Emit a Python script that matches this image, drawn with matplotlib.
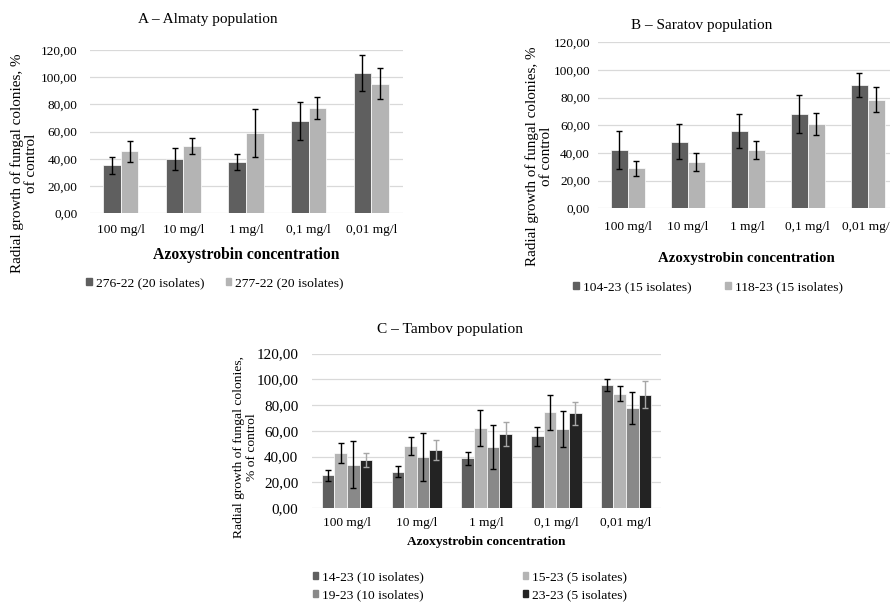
import numpy as np
import matplotlib
matplotlib.use("Agg")
from matplotlib import pyplot as plt
from matplotlib.patches import Patch
from matplotlib.ticker import FuncFormatter, MultipleLocator

plt.rcParams["font.family"] = ["Liberation Serif", "DejaVu Serif"]

# x categories shared by all three panels
categories = ["100 mg/l", "10 mg/l", "1 mg/l", "0,1 mg/l", "0,01 mg/l"]

# A - Almaty
almaty_labels = ["276-22 (20 isolates)", "277-22 (20 isolates)"]
almaty_276 = [35.2, 39.9, 37.7, 67.8, 103.1]
almaty_276_err = [6.2, 8.0, 6.2, 14.2, 13.3]
almaty_277 = [45.5, 49.5, 58.8, 77.6, 95.2]
almaty_277_err = [7.6, 6.2, 17.5, 8.2, 11.5]

# B - Saratov
saratov_labels = ["104-23 (15 isolates)", "118-23 (15 isolates)"]
saratov_104 = [41.9, 48.2, 55.9, 68.3, 89.3]
saratov_104_err = [13.8, 12.4, 12.3, 13.8, 8.5]
saratov_118 = [28.8, 33.6, 41.9, 61.0, 78.6]
saratov_118_err = [5.3, 6.4, 6.6, 8.2, 9.1]

# C - Tambov
tambov_labels = ["14-23 (10 isolates)", "15-23 (5 isolates)",
                 "19-23 (10 isolates)", "23-23 (5 isolates)"]
tambov_14 = [25.5, 28.3, 38.7, 55.8, 95.6]
tambov_14_err = [4.2, 4.2, 5.0, 7.4, 4.8]
tambov_15 = [42.6, 48.0, 61.8, 74.3, 88.8]
tambov_15_err = [7.5, 6.9, 14.0, 13.8, 5.8]
tambov_19 = [33.5, 39.7, 47.3, 61.3, 77.9]
tambov_19_err = [18.3, 18.7, 17.3, 14.1, 12.4]
tambov_23 = [37.4, 44.9, 57.4, 73.5, 88.0]
tambov_23_err = [5.6, 8.0, 9.2, 9.0, 10.3]

DARK = "#5f5f5f"
LIGHT = "#b4b4b4"
MID = "#898989"
BLACK = "#232323"
GRID = "#d9d9d9"

W, H = 890, 603
fig = plt.figure(figsize=(W / 100, H / 100), dpi=100)


def box(x0, y0, x1, y1):
    # pixel box (top-left origin) -> figure fraction rect
    return [x0 / W, 1 - y1 / H, (x1 - x0) / W, (y1 - y0) / H]


def at(x, y):
    return x / W, 1 - y / H


def draw_panel(ax, values, errors, colors, ecolors, width, ytick_size, ypad, xpad):
    x = np.arange(len(categories))
    n = len(values)
    for i in range(n):
        ax.bar(x + (i - (n - 1) / 2) * width, values[i], width,
               color=colors[i], edgecolor="white", linewidth=0.5,
               yerr=errors[i], zorder=2,
               error_kw=dict(ecolor=ecolors[i], elinewidth=1.0,
                             capsize=2.0, capthick=1.0, zorder=3))
    ax.set_xlim(-0.5, len(categories) - 0.5)
    ax.set_ylim(0, 120)
    ax.yaxis.set_major_locator(MultipleLocator(20))
    ax.yaxis.set_major_formatter(FuncFormatter(lambda v, p: f"{v:.2f}".replace(".", ",")))
    ax.set_xticks(x)
    ax.set_xticklabels(categories)
    ax.grid(axis="y", color=GRID, linewidth=0.9, zorder=0)
    ax.set_axisbelow(True)
    for s in ax.spines.values():
        s.set_visible(False)
    ax.tick_params(axis="both", length=0)
    ax.tick_params(axis="y", labelsize=ytick_size, pad=ypad)
    ax.tick_params(axis="x", labelsize=9.6, pad=xpad)


# ---------- A ----------
axA = fig.add_axes(box(89.5, 50, 402.5, 213.3))
draw_panel(axA, [almaty_276, almaty_277], [almaty_276_err, almaty_277_err],
           [DARK, LIGHT], ["black", "black"], 0.28, 9.5, 8.5, 7.5)
fig.text(*at(208, 20), "A – Almaty population", ha="center", va="center", fontsize=11)
fig.text(*at(24, 163), "Radial growth of fungal colonies, %\nof control",
         rotation=90, ha="center", va="center", fontsize=10.9, linespacing=1.05,
         multialignment="center")
fig.text(*at(246, 255), "Azoxystrobin concentration", ha="center", va="center",
         fontsize=11.3, fontweight="bold")
fig.legend([Patch(color=DARK), Patch(color=LIGHT)], almaty_labels,
           loc="center left", bbox_to_anchor=at(86, 283), ncol=2, frameon=False,
           fontsize=9.7, handlelength=0.42, handleheight=0.42, handletextpad=0.3,
           columnspacing=1.6, borderpad=0, borderaxespad=0)

# ---------- B ----------
axB = fig.add_axes(box(597.7, 42.4, 897.7, 208.2))
draw_panel(axB, [saratov_104, saratov_118], [saratov_104_err, saratov_118_err],
           [DARK, LIGHT], ["black", "black"], 0.283, 9.5, 5.5, 9.5)
fig.text(*at(701.5, 25), "B – Saratov population", ha="center", va="center", fontsize=11)
fig.text(*at(539, 156.7), "Radial growth of fungal colonies, %\nof control",
         rotation=90, ha="center", va="center", fontsize=10.9, linespacing=1.05,
         multialignment="center")
fig.text(*at(746.7, 258), "Azoxystrobin concentration", ha="center", va="center",
         fontsize=10.7, fontweight="bold")
fig.legend([Patch(color=DARK), Patch(color=LIGHT)], saratov_labels,
           loc="center left", bbox_to_anchor=at(573, 287), ncol=2, frameon=False,
           fontsize=9.7, handlelength=0.42, handleheight=0.42, handletextpad=0.3,
           columnspacing=2.5, borderpad=0, borderaxespad=0)

# ---------- C ----------
axC = fig.add_axes(box(312.2, 353.5, 661, 508))
draw_panel(axC, [tambov_14, tambov_15, tambov_19, tambov_23],
           [tambov_14_err, tambov_15_err, tambov_19_err, tambov_23_err],
           [DARK, LIGHT, MID, BLACK], ["black", "black", "black", "#a6a6a6"],
           0.181, 10.9, 10, 6.3)
fig.text(*at(450, 330), "C – Tambov population", ha="center", va="center", fontsize=11.1)
fig.text(*at(245.5, 446.7), "Radial growth of fungal colonies,\n% of control",
         rotation=90, ha="center", va="center", fontsize=9.7, linespacing=1.1,
         multialignment="center")
fig.text(*at(486.7, 541.7), "Azoxystrobin concentration", ha="center", va="center",
         fontsize=9.6, fontweight="bold")
# legend order: column 1 = 14-23, 19-23 ; column 2 = 15-23, 23-23
order = [0, 2, 1, 3]
c_colors = [DARK, LIGHT, MID, BLACK]
fig.legend([Patch(color=c_colors[i]) for i in order], [tambov_labels[i] for i in order],
           loc="center left", bbox_to_anchor=at(312.7, 585.9), ncol=2, frameon=False,
           fontsize=9.7, handlelength=0.42, handleheight=0.42, handletextpad=0.3,
           columnspacing=7.3, labelspacing=0.45, borderpad=0, borderaxespad=0)

fig.savefig("out.png", dpi=100)
